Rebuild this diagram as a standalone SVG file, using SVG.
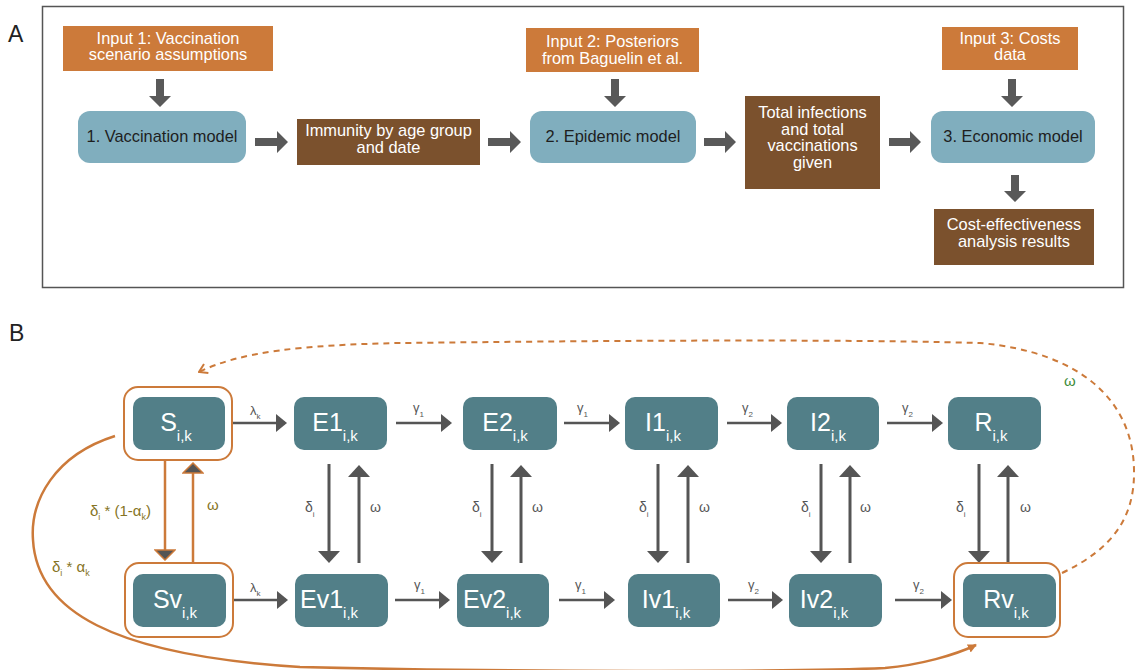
<svg xmlns="http://www.w3.org/2000/svg" width="1135" height="670" viewBox="0 0 1135 670">
<defs>
<style>
text{font-family:"Liberation Sans",Arial,sans-serif}
.inp{fill:#CC7A3A}
.brn{fill:#7B512D}
.mdl{fill:#80AEBE}
.wt{fill:#fff;font-size:16.4px;text-anchor:middle}
.bk{fill:#1e1e1e;font-size:16.4px;text-anchor:middle}
.fat{fill:#595959}
.node{fill:#527F88}
.ring{fill:none;stroke:#CC7A3A;stroke-width:2}
.nt{fill:#fff;font-size:25px;text-anchor:middle}
.thin{stroke:#555;stroke-width:2.5;fill:none}
.vert{stroke:#555;stroke-width:3;fill:none}
.ovr{stroke:#CC7A3A;stroke-width:2.5;fill:none}
.lbl{fill:#555;font-size:13px}
.lv{fill:#555;font-size:14px}
.olive{fill:#857424;font-size:15px}
.panel{font-size:23px;fill:#222}
</style>
<marker id="hs" viewBox="0 0 11 18" refX="9" refY="9" markerWidth="11" markerHeight="18" markerUnits="userSpaceOnUse" orient="auto"><path d="M0,0L11,9L0,18z" fill="#555"/></marker>
<marker id="hv" viewBox="0 0 12 22" refX="10" refY="11" markerWidth="12" markerHeight="22" markerUnits="userSpaceOnUse" orient="auto"><path d="M0,0L12,11L0,22z" fill="#555"/></marker>
<marker id="ho" viewBox="-1 -1 12 22" refX="8" refY="10" markerWidth="12" markerHeight="22" markerUnits="userSpaceOnUse" orient="auto"><path d="M0,0L10,10L0,20z" fill="#555" stroke="#CC7A3A" stroke-width="1.5"/></marker>
<marker id="hd" viewBox="0 0 10 12" refX="9" refY="6" markerWidth="10" markerHeight="12" markerUnits="userSpaceOnUse" orient="auto"><path d="M1,1L9,6L1,11" fill="none" stroke="#CC7A3A" stroke-width="2"/></marker>
<marker id="hc" viewBox="0 0 9 9" refX="8" refY="4.5" markerWidth="9" markerHeight="9" markerUnits="userSpaceOnUse" orient="auto"><path d="M0,0L9,4.5L0,9z" fill="#CC7A3A"/></marker>
</defs>
<rect width="1135" height="670" fill="#fff"/>

<!-- Panel A -->
<text class="panel" x="8" y="42">A</text>
<rect x="42.5" y="6.5" width="1081" height="281" fill="none" stroke="#555" stroke-width="1.5"/>

<g id="input1"><rect class="inp" x="63" y="26" width="210" height="45"/>
<text class="wt" x="168" y="43.5">Input 1: Vaccination</text><text class="wt" x="168" y="60">scenario assumptions</text></g>
<g id="vaccination_model"><rect class="mdl" x="78" y="111" width="168" height="52" rx="12"/>
<text class="bk" x="162" y="142">1. Vaccination model</text></g>
<g id="immunity"><rect class="brn" x="297" y="119" width="183" height="46"/>
<text class="wt" x="388.5" y="136">Immunity by age group</text><text class="wt" x="388.5" y="153">and date</text></g>
<g id="input2"><rect class="inp" x="526" y="28" width="173" height="44"/>
<text class="wt" x="612.5" y="47">Input 2: Posteriors</text><text class="wt" x="612.5" y="64">from Baguelin et al.</text></g>
<g id="epidemic_model"><rect class="mdl" x="530" y="111" width="166" height="52" rx="12"/>
<text class="bk" x="613" y="142">2. Epidemic model</text></g>
<g id="totals"><rect class="brn" x="745" y="96" width="135" height="93"/>
<text class="wt" x="812.5" y="117.5">Total infections</text><text class="wt" x="812.5" y="134.5">and total</text>
<text class="wt" x="812.5" y="151">vaccinations</text><text class="wt" x="812.5" y="167.5">given</text></g>
<g id="input3"><rect class="inp" x="942" y="27" width="136" height="43"/>
<text class="wt" x="1010" y="43.5">Input 3: Costs</text><text class="wt" x="1010" y="60">data</text></g>
<g id="economic_model"><rect class="mdl" x="931" y="111" width="164" height="52" rx="12"/>
<text class="bk" x="1013" y="142">3. Economic model</text></g>
<g id="cea_results"><rect class="brn" x="934" y="209" width="160" height="56"/>
<text class="wt" x="1014" y="229.5">Cost-effectiveness</text><text class="wt" x="1014" y="246.5">analysis results</text></g>

<g id="connectors_a" class="fat">
<polygon points="156,79 164,79 164,96 171,96 160,107 149,96 156,96"/>
<polygon points="611,79 619,79 619,96 626,96 615,107 604,96 611,96"/>
<polygon points="1008,79 1016,79 1016,96 1023,96 1012,107 1001,96 1008,96"/>
<polygon points="1011,175 1019,175 1019,191 1026,191 1015,202 1004,191 1011,191"/>
<polygon points="255,138 277,138 277,131 288,142 277,153 277,146 255,146"/>
<polygon points="488,138 510,138 510,131 521,142 510,153 510,146 488,146"/>
<polygon points="704,138 725,138 725,131 736,142 725,153 725,146 704,146"/>
<polygon points="889,138 910,138 910,131 921,142 910,153 910,146 889,146"/>
</g>

<!-- Panel B -->
<text class="panel" x="9" y="341">B</text>

<g id="connectors_b">
<path class="ovr" d="M115,436 C55,455 30,500 33,540 C37,610 110,655 300,667 C500,672 800,672 885,668 C920,665 955,655 976,645" marker-end="url(#hc)"/>
<path d="M1062,573 C1110,550 1135,520 1134,470 C1133,400 1080,352 980,343 C800,338 500,342 400,343 C300,345 240,352 199,372" fill="none" stroke="#CC7A3A" stroke-width="2" stroke-dasharray="6,5" marker-end="url(#hd)"/>
<g class="thin">
<line x1="233" y1="423" x2="285" y2="423" marker-end="url(#hs)"/>
<line x1="396" y1="423" x2="450" y2="423" marker-end="url(#hs)"/>
<line x1="564" y1="423" x2="618" y2="423" marker-end="url(#hs)"/>
<line x1="727" y1="423" x2="780" y2="423" marker-end="url(#hs)"/>
<line x1="887" y1="423" x2="941" y2="423" marker-end="url(#hs)"/>
<line x1="233" y1="600" x2="286" y2="600" marker-end="url(#hs)"/>
<line x1="395" y1="600" x2="448" y2="600" marker-end="url(#hs)"/>
<line x1="559" y1="600" x2="613" y2="600" marker-end="url(#hs)"/>
<line x1="728" y1="600" x2="781" y2="600" marker-end="url(#hs)"/>
<line x1="895" y1="600" x2="950" y2="600" marker-end="url(#hs)"/>
</g>
<g class="vert">
<line x1="329" y1="464" x2="329" y2="561" marker-end="url(#hv)"/>
<line x1="359" y1="563" x2="359" y2="467" marker-end="url(#hv)"/>
<line x1="492" y1="464" x2="492" y2="561" marker-end="url(#hv)"/>
<line x1="521" y1="563" x2="521" y2="467" marker-end="url(#hv)"/>
<line x1="658" y1="464" x2="658" y2="561" marker-end="url(#hv)"/>
<line x1="688" y1="563" x2="688" y2="467" marker-end="url(#hv)"/>
<line x1="821" y1="464" x2="821" y2="561" marker-end="url(#hv)"/>
<line x1="850" y1="563" x2="850" y2="467" marker-end="url(#hv)"/>
<line x1="979" y1="464" x2="979" y2="561" marker-end="url(#hv)"/>
<line x1="1008" y1="563" x2="1008" y2="467" marker-end="url(#hv)"/>
</g>
<line class="ovr" x1="165" y1="461" x2="165" y2="558" marker-end="url(#ho)"/>
<line class="ovr" x1="193" y1="562" x2="193" y2="465" marker-end="url(#ho)"/>
<g class="lbl">
<text x="250" y="415">λ<tspan font-size="8" dy="4">k</tspan></text>
<text x="413" y="412">γ<tspan font-size="8" dy="5">1</tspan></text>
<text x="577" y="412">γ<tspan font-size="8" dy="5">1</tspan></text>
<text x="742" y="412">γ<tspan font-size="8" dy="5">2</tspan></text>
<text x="902" y="412">γ<tspan font-size="8" dy="5">2</tspan></text>
<text x="250" y="592">λ<tspan font-size="8" dy="4">k</tspan></text>
<text x="414" y="589">γ<tspan font-size="8" dy="5">1</tspan></text>
<text x="575" y="589">γ<tspan font-size="8" dy="5">1</tspan></text>
<text x="748" y="589">γ<tspan font-size="8" dy="5">2</tspan></text>
<text x="913" y="589">γ<tspan font-size="8" dy="5">2</tspan></text>
</g>
<g class="lv">
<text x="305" y="512">δ<tspan font-size="8" dy="5">i</tspan></text>
<text x="370" y="512">ω</text>
<text x="472" y="512">δ<tspan font-size="8" dy="5">i</tspan></text>
<text x="532" y="512">ω</text>
<text x="639" y="512">δ<tspan font-size="8" dy="5">i</tspan></text>
<text x="699" y="512">ω</text>
<text x="801" y="512">δ<tspan font-size="8" dy="5">i</tspan></text>
<text x="860" y="512">ω</text>
<text x="956" y="512">δ<tspan font-size="8" dy="5">i</tspan></text>
<text x="1020" y="512">ω</text>
</g>
<g class="olive">
<text x="90" y="516">δ<tspan font-size="9" dy="4">i</tspan><tspan dy="-4"> * (1-α</tspan><tspan font-size="9" dy="4">k</tspan><tspan dy="-4">)</tspan></text>
<text x="207" y="510">ω</text>
<text x="52" y="572">δ<tspan font-size="9" dy="4">i</tspan><tspan dy="-4"> * α</tspan><tspan font-size="9" dy="4">k</tspan></text>
</g>
<text x="1064" y="386" font-size="15" fill="#3D8B37">ω</text>
</g>

<g id="S"><rect class="ring" x="124" y="387" width="108" height="73" rx="14"/><rect class="node" x="133" y="397" width="92" height="53" rx="10"/>
<text class="nt" x="176" y="431">S<tspan font-size="15" dy="10">i,k</tspan></text></g>
<g id="E1"><rect class="node" x="294" y="397" width="93" height="53" rx="10"/>
<text class="nt" x="335" y="431">E1<tspan font-size="15" dy="10">i,k</tspan></text></g>
<g id="E2"><rect class="node" x="463" y="397" width="94" height="53" rx="10"/>
<text class="nt" x="505" y="431">E2<tspan font-size="15" dy="10">i,k</tspan></text></g>
<g id="I1"><rect class="node" x="625" y="397" width="93" height="53" rx="10"/>
<text class="nt" x="663" y="431">I1<tspan font-size="15" dy="10">i,k</tspan></text></g>
<g id="I2"><rect class="node" x="787" y="397" width="92" height="53" rx="10"/>
<text class="nt" x="828" y="431">I2<tspan font-size="15" dy="10">i,k</tspan></text></g>
<g id="R"><rect class="node" x="948" y="397" width="93" height="53" rx="10"/>
<text class="nt" x="991" y="431">R<tspan font-size="15" dy="10">i,k</tspan></text></g>

<g id="Sv"><rect class="ring" x="125" y="563" width="108" height="74" rx="14"/><rect class="node" x="133" y="574" width="93" height="53" rx="10"/>
<text class="nt" x="175" y="608">Sv<tspan font-size="15" dy="10">i,k</tspan></text></g>
<g id="Ev1"><rect class="node" x="295" y="574" width="93" height="53" rx="10"/>
<text class="nt" x="329" y="608">Ev1<tspan font-size="15" dy="10">i,k</tspan></text></g>
<g id="Ev2"><rect class="node" x="457" y="574" width="92" height="53" rx="10"/>
<text class="nt" x="492" y="608">Ev2<tspan font-size="15" dy="10">i,k</tspan></text></g>
<g id="Iv1"><rect class="node" x="628" y="574" width="92" height="53" rx="10"/>
<text class="nt" x="666" y="608">Iv1<tspan font-size="15" dy="10">i,k</tspan></text></g>
<g id="Iv2"><rect class="node" x="789" y="574" width="93" height="53" rx="10"/>
<text class="nt" x="824" y="608">Iv2<tspan font-size="15" dy="10">i,k</tspan></text></g>
<g id="Rv"><rect class="ring" x="954" y="563" width="106" height="74" rx="14"/><rect class="node" x="963" y="574" width="93" height="53" rx="10"/>
<text class="nt" x="1006" y="608">Rv<tspan font-size="15" dy="10">i,k</tspan></text></g>
</svg>
